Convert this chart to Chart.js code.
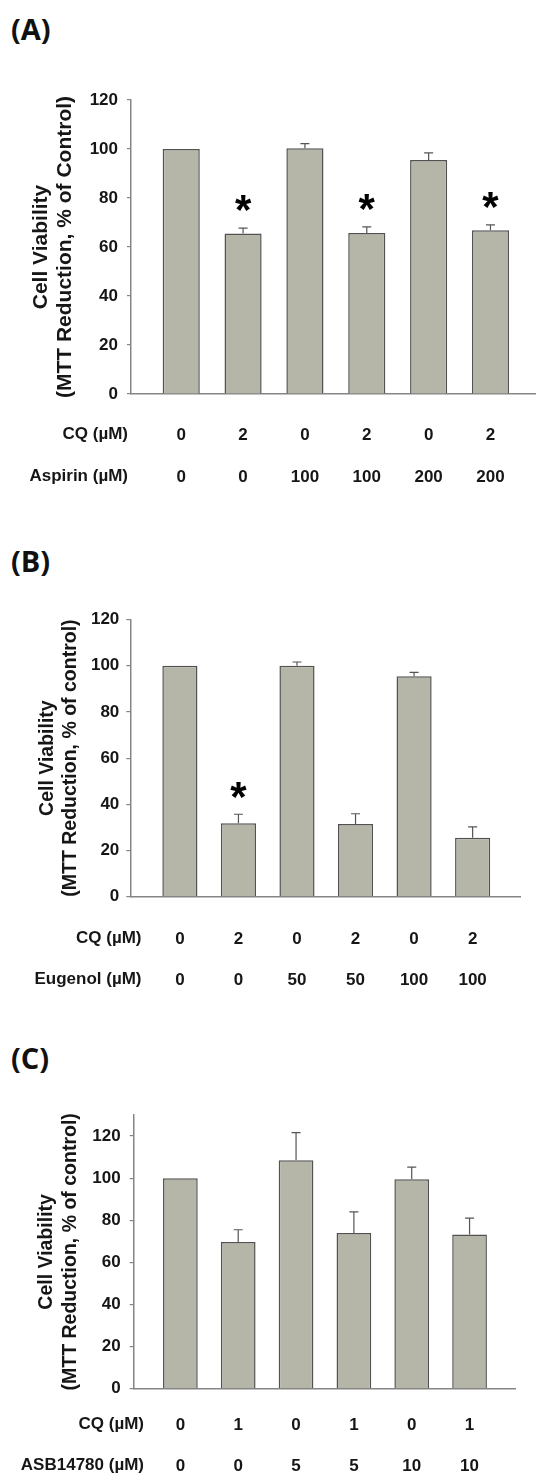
<!DOCTYPE html>
<html>
<head>
<meta charset="utf-8">
<script src="https://cdn.jsdelivr.net/npm/chart.js@4.4.1/dist/chart.umd.min.js"></script>
<style>
  html, body { margin: 0; padding: 0; background: #fff; }
  body { position: relative; width: 536px; height: 1474px; overflow: hidden; }
  .panel-label { position: absolute; left: 11px; font-family: "Open Sans", sans-serif; font-weight: 700; font-size: 29px; line-height: 29px; color: #111; }
  canvas { position: absolute; left: 0; display: block; }
</style>
</head>
<body>
<div class="panel-label" style="top:14px">(A)</div>
<div class="panel-label" style="top:546px">(B)</div>
<div class="panel-label" style="top:1043px">(C)</div>
<canvas id="chartA" width="536" height="460" style="top:60px"></canvas>
<canvas id="chartB" width="536" height="450" style="top:560px"></canvas>
<canvas id="chartC" width="536" height="394" style="top:1080px"></canvas>
<script>
// (A) aspirin
const cqA = ['0', '2', '0', '2', '0', '2'];
const aspirinA = ['0', '0', '100', '100', '200', '200'];
const viabilityA = [100, 65.5, 100.3, 65.7, 95.5, 66.8];
const errorA = [0, 2.2, 1.9, 2.5, 2.9, 2.2];
const starsA = [false, true, false, true, false, true];

// (B) eugenol
const cqB = ['0', '2', '0', '2', '0', '2'];
const eugenolB = ['0', '0', '50', '50', '100', '100'];
const viabilityB = [100, 31.8, 100, 31.5, 95.4, 25.5];
const errorB = [0, 3.9, 1.6, 4.4, 1.7, 4.7];
const starsB = [false, true, false, false, false, false];

// (C) ASB14780
const cqC = ['0', '1', '0', '1', '0', '1'];
const asbC = ['0', '0', '5', '5', '10', '10'];
const viabilityC = [100, 69.7, 108.5, 73.9, 99.5, 73.2];
const errorC = [0, 5.8, 13.1, 10.1, 5.7, 7.8];
const starsC = [false, false, false, false, false, false];

const FONT = '"Liberation Sans", Arial, sans-serif';
const TEXT = '#161616';
const AXIS = '#858585';

function errorBars(errors, stars, starLift) {
    return {
        id: 'errorBars',
        afterDatasetsDraw(chart) {
            const ctx = chart.ctx;
            const ys = chart.scales.y;
            const values = chart.data.datasets[0].data;
            ctx.save();
            ctx.strokeStyle = '#555';
            ctx.lineWidth = 1.2;
            chart.getDatasetMeta(0).data.forEach((bar, i) => {
                const capY = ys.getPixelForValue(values[i].y + errors[i]);
                if (errors[i] > 0) {
                    ctx.beginPath();
                    ctx.moveTo(bar.x, bar.y);
                    ctx.lineTo(bar.x, capY);
                    ctx.moveTo(bar.x - 4.5, capY);
                    ctx.lineTo(bar.x + 4.5, capY);
                    ctx.stroke();
                }
                if (stars[i]) {
                    ctx.fillStyle = '#000';
                    ctx.font = 'bold 42px ' + FONT;
                    ctx.textAlign = 'center';
                    ctx.textBaseline = 'alphabetic';
                    ctx.fillText('*', bar.x, capY - starLift);
                }
            });
            ctx.restore();
        }
    };
}

function rowLabels(names, rightX, pad, lineH) {
    return {
        id: 'rowLabels',
        afterDraw(chart) {
            const ctx = chart.ctx;
            const xs = chart.scales.x;
            ctx.save();
            ctx.font = 'bold 17px ' + FONT;
            ctx.fillStyle = TEXT;
            ctx.textAlign = 'right';
            ctx.textBaseline = 'middle';
            names.forEach((n, i) => ctx.fillText(n, rightX, xs.top + pad + lineH / 2 + i * lineH));
            ctx.restore();
        }
    };
}

function makePanel(id, p) {
    const ctx = document.getElementById(id).getContext('2d');
    return new Chart(ctx, {
        type: 'bar',
        data: {
            datasets: [{
                data: p.values.map((v, i) => ({ x: i, y: v })),
                backgroundColor: '#b5b5a8',
                borderColor: '#525252',
                borderWidth: 1.5,
                barPercentage: 0.6,
                categoryPercentage: 1
            }]
        },
        options: {
            responsive: false,
            animation: false,
            layout: { padding: { top: p.padTop, right: p.padRight, left: 0, bottom: 0 } },
            plugins: { legend: { display: false }, tooltip: { enabled: false } },
            scales: {
                x: {
                    type: 'linear',
                    offset: false,
                    min: p.xMin,
                    max: p.xMax,
                    afterBuildTicks: (scale) => { scale.ticks = p.rowA.map((_, i) => ({ value: i })); },
                    afterFit: (scale) => { scale.height = p.xHeight; },
                    ticks: {
                        autoSkip: false,
                        maxRotation: 0,
                        padding: p.xPad - 7,
                        color: TEXT,
                        font: { family: FONT, size: 17, weight: 'bold', lineHeight: p.rowH + 'px' },
                        callback: (v) => [p.rowA[v], p.rowB[v]]
                    },
                    grid: { display: false },
                    border: { color: AXIS, width: 1.5 }
                },
                y: {
                    min: 0,
                    max: p.yMax,
                    afterBuildTicks: (scale) => { scale.ticks = scale.ticks.filter(t => t.value <= 120); },
                    afterFit: (scale) => { scale.width = p.yWidth; },
                    ticks: {
                        stepSize: 20,
                        padding: p.yPad,
                        color: TEXT,
                        font: { family: FONT, size: 17, weight: 'bold' }
                    },
                    grid: { drawOnChartArea: false, tickLength: 4, color: AXIS, lineWidth: 1.2 },
                    border: { color: AXIS, width: 1.5 },
                    title: {
                        display: true,
                        text: p.yTitle,
                        color: TEXT,
                        font: { family: FONT, size: p.titleSize, weight: 'bold', lineHeight: p.titleLH + 'px' },
                        padding: { top: p.titlePad, bottom: 0 }
                    }
                }
            }
        },
        plugins: [errorBars(p.errors, p.stars, p.starLift), rowLabels(p.rowNames, p.rowX, p.xPad, p.rowH)]
    });
}

makePanel('chartA', {
    values: viabilityA, errors: errorA, stars: starsA, starLift: 4,
    rowA: cqA, rowB: aspirinA, rowNames: ['CQ (\u00b5M)', 'Aspirin (\u00b5M)'], rowX: 128,
    yTitle: ['Cell Viability', '(MTT Reduction, % of Control)'], titleSize: 21, titleLH: 24, titlePad: 29,
    yMax: 120, yWidth: 131, yPad: 9, padTop: 40, padRight: 0,
    xMin: -0.812, xMax: 5.736, xHeight: 126, xPad: 19, rowH: 42
});

makePanel('chartB', {
    values: viabilityB, errors: errorB, stars: starsB, starLift: 3,
    rowA: cqB, rowB: eugenolB, rowNames: ['CQ (\u00b5M)', 'Eugenol (\u00b5M)'], rowX: 141.5,
    yTitle: ['Cell Viability', '(MTT Reduction, % of control)'], titleSize: 19.5, titleLH: 23, titlePad: 36.5,
    yMax: 120, yWidth: 130.3, yPad: 7, padTop: 59.5, padRight: 16,
    xMin: -0.847, xMax: 5.809, xHeight: 113.3, xPad: 21, rowH: 41
});

makePanel('chartC', {
    values: viabilityC, errors: errorC, stars: starsC, starLift: 3,
    rowA: cqC, rowB: asbC, rowNames: ['CQ (\u00b5M)', 'ASB14780 (\u00b5M)'], rowX: 144,
    yTitle: ['Cell Viability', '(MTT Reduction, % of control)'], titleSize: 19.5, titleLH: 24, titlePad: 35,
    yMax: 130, yWidth: 133.7, yPad: 9, padTop: 35, padRight: 20.4,
    xMin: -0.807, xMax: 5.796, xHeight: 85.3, xPad: 14.8, rowH: 41
});
</script>
</body>
</html>
